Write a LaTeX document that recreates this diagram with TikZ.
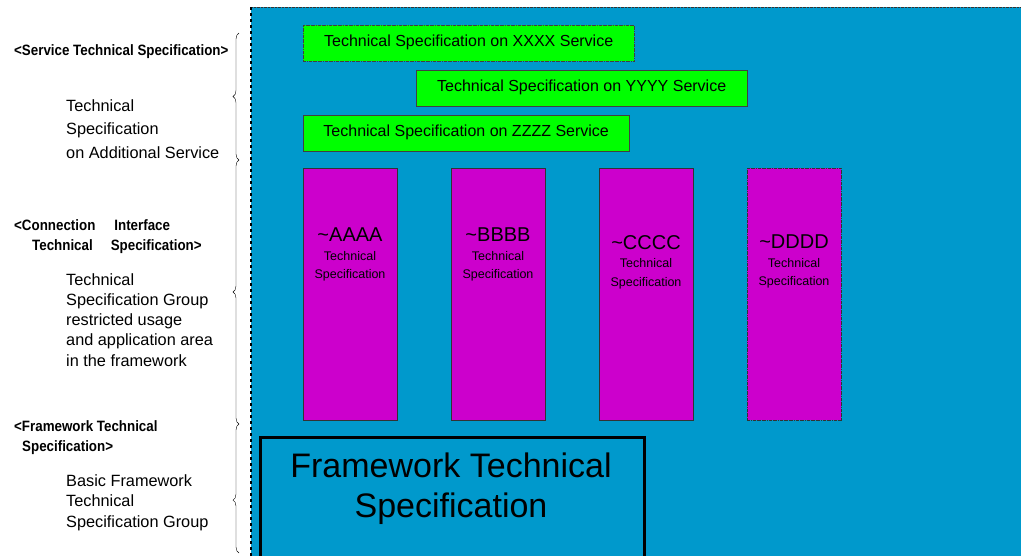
\documentclass[tikz,border=0pt]{standalone}
\usepackage{fontspec}
\setmainfont{Liberation Sans}
\newfontfamily\headfont[FakeStretch=0.89]{Liberation Sans}
\usetikzlibrary{decorations.pathreplacing}

\definecolor{bgblue}{RGB}{0,153,204}
\definecolor{svcgreen}{RGB}{0,255,0}
\definecolor{ifpurple}{RGB}{204,0,204}

\tikzset{
  svcbox/.style={draw=black!75, fill=svcgreen, anchor=north west, inner sep=0,
    minimum height=36, text height=10, text depth=4,
    font=\fontsize{16}{18}\selectfont},
  ifbox/.style={draw=black!80, fill=ifpurple, anchor=north west, inner sep=0,
    minimum width=94, minimum height=252},
  iftext/.style={anchor=north, inner sep=0, align=center,
    font=\fontsize{12.5}{18.5}\selectfont},
  grouphead/.style={anchor=north west, inner sep=0, align=left,
    font=\headfont\fontsize{15}{20}\selectfont\bfseries},
  groupbody/.style={anchor=north west, inner sep=0, align=left},
  sidebrace/.style={decorate, decoration={brace, amplitude=6}, black, thin}
}

\begin{document}
\begin{tikzpicture}[x=1pt, y=-1pt]

        \pgfmathsetmacro{\bracex}{239};
        \pgfmathsetmacro{\ifwidth}{94};

        \clip (0,0) rectangle (1021,555);

        % blue area
        \fill [bgblue] (251,7) rectangle (1021,560);
        \draw [densely dotted, black!80] (251,7) -- (1021,7);
        \draw [dashed, line width=1.5] (251,7) -- (251,560);

        % service specifications
        \node (xxxx) at (303,25) [svcbox, minimum width=331, densely dash dot] {Technical Specification on XXXX Service};
        \node (yyyy) at (416,70) [svcbox, minimum width=331] {Technical Specification on YYYY Service};
        \node (zzzz) at (303,115) [svcbox, minimum width=326] {Technical Specification on ZZZZ Service};

        % connection interface specifications
        \node (aaaa) at (303,168) [ifbox] {};
        \node (bbbb) at (451,168) [ifbox] {};
        \node (cccc) at (599,168) [ifbox] {};
        \node (dddd) at (747,168) [ifbox, densely dash dot] {};

        \node (aaaatext) at (350,228) [iftext] {{\fontsize{20}{20}\selectfont\textasciitilde AAAA}\\Technical\\Specification};
        \node (bbbbtext) at (498,228) [iftext] {{\fontsize{20}{20}\selectfont\textasciitilde BBBB}\\Technical\\Specification};
        \node (cccctext) at (646,235) [iftext] {{\fontsize{20}{20}\selectfont\textasciitilde CCCC}\\Technical\\Specification};
        \node (ddddtext) at (794,235) [iftext] {{\fontsize{20}{20}\selectfont\textasciitilde DDDD}\\Technical\\Specification};

        % framework
        \node (frame) at (259,436) [draw, line width=2.5, anchor=north west, minimum width=384, minimum height=140] {};
        \node (frametext) at (451,489) [align=center, inner sep=0, font=\fontsize{34}{40}\selectfont] {Framework Technical\\Specification};

        % left side
        \node (svchead) at (14,44) [grouphead] {<Service Technical Specification>};
        \node (svcbody) at (66,99) [groupbody, font=\fontsize{16.3}{23.5}\selectfont] {Technical\\Specification\\on Additional Service};

        \node (ifhead) at (14,219) [grouphead] {<Connection\hspace{19pt}Interface\\\hspace*{18pt}Technical\hspace{18pt}Specification>};
        \node (ifbody) at (66,273) [groupbody, font=\fontsize{16.3}{20.3}\selectfont] {Technical\\Specification Group\\restricted usage\\and application area\\in the framework};

        \node (fwhead) at (14,420) [grouphead] {<Framework Technical\\\hspace*{8pt}Specification>};
        \node (fwbody) at (66,474) [groupbody, font=\fontsize{16.3}{20.5}\selectfont] {Basic Framework\\Technical\\Specification Group};

        % braces
        \coordinate (b0) at (\bracex,33);
        \coordinate (b1) at (\bracex,160);
        \coordinate (b2) at (\bracex,424);
        \coordinate (b3) at (\bracex,553);
        \draw [sidebrace] (b1) -- (b0);
        \draw [sidebrace] (b2) -- (b1);
        \draw [sidebrace, decoration={aspect=0.41}] (b3) -- (b2);

\end{tikzpicture}
\end{document}
